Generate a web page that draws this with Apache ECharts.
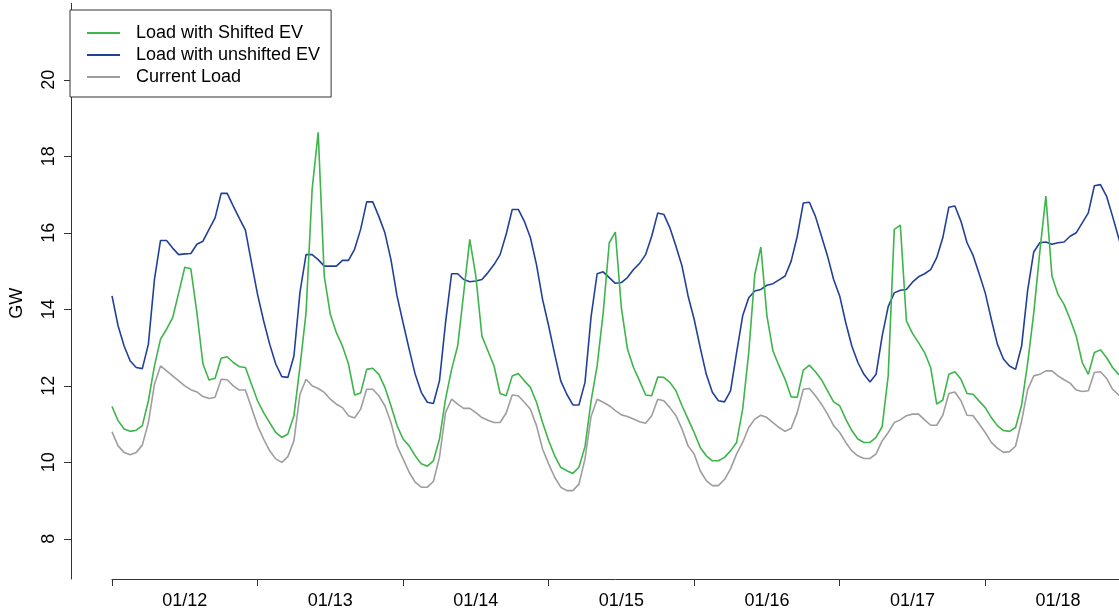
<!DOCTYPE html>
<html><head><meta charset="utf-8">
<script src="https://cdn.jsdelivr.net/npm/echarts@6/dist/echarts.min.js"></script>
<style>html,body{margin:0;padding:0;background:#fff}#c{width:1119px;height:610px}</style>
</head><body><div id="c"></div><script>
// hourly values, 01/12 00:00 onward
const shiftedEV = [
11.46,11.09,10.87,10.81,10.84,10.96,11.61,12.52,13.22,13.48,13.78,14.43,15.1,15.06,13.91,12.57,12.15,12.2,12.72,12.76,12.61,12.5,12.48,12.04,
11.61,11.3,11.04,10.78,10.65,10.74,11.22,12.5,13.91,17.13,18.63,14.87,13.87,13.39,13.04,12.57,11.76,11.81,12.43,12.46,12.3,11.96,11.48,10.96,
10.61,10.43,10.17,9.96,9.9,10.04,10.61,11.65,12.43,13.04,14.43,15.83,14.87,13.3,12.91,12.52,11.8,11.74,12.26,12.32,12.13,11.96,11.57,11.04,
10.57,10.17,9.87,9.78,9.71,9.87,10.41,11.6,12.52,13.91,15.74,16.02,14.04,12.96,12.48,12.13,11.76,11.74,12.23,12.22,12.09,11.87,11.48,11.13,
10.78,10.39,10.17,10.04,10.04,10.13,10.3,10.52,11.39,12.87,14.91,15.63,13.83,12.91,12.52,12.17,11.71,11.7,12.41,12.54,12.37,12.16,11.87,11.58,
11.48,11.13,10.83,10.61,10.52,10.52,10.65,10.93,12.26,16.09,16.2,13.7,13.37,13.13,12.87,12.48,11.52,11.63,12.3,12.37,12.17,11.8,11.78,11.6,
11.43,11.17,10.96,10.83,10.81,10.91,11.5,12.6,13.9,15.5,16.96,14.87,14.39,14.13,13.74,13.3,12.61,12.3,12.87,12.94,12.74,12.48,12.3,12.2];
const unshiftedEV = [
14.35,13.57,13.04,12.65,12.48,12.45,13.09,14.78,15.8,15.8,15.6,15.43,15.45,15.46,15.7,15.78,16.09,16.39,17.03,17.03,16.7,16.38,16.07,15.22,
14.39,13.7,13.09,12.57,12.24,12.22,12.78,14.45,15.43,15.43,15.3,15.13,15.13,15.13,15.28,15.28,15.57,16.09,16.81,16.81,16.43,16.0,15.3,14.35,
13.65,12.96,12.3,11.83,11.57,11.54,12.13,13.65,14.93,14.93,14.78,14.72,14.74,14.78,14.96,15.17,15.43,15.96,16.61,16.61,16.3,15.87,15.17,14.26,
13.57,12.83,12.13,11.78,11.5,11.5,12.09,13.8,14.93,14.98,14.83,14.68,14.7,14.83,15.04,15.2,15.43,15.91,16.52,16.48,16.13,15.65,15.13,14.35,
13.74,13.0,12.3,11.83,11.61,11.58,11.87,12.87,13.83,14.3,14.48,14.52,14.63,14.67,14.77,14.87,15.26,15.91,16.78,16.8,16.43,15.91,15.39,14.78,
14.35,13.65,13.04,12.61,12.3,12.1,12.3,13.3,14.07,14.43,14.5,14.52,14.71,14.85,14.93,15.04,15.35,15.87,16.67,16.7,16.3,15.74,15.41,14.93,
14.43,13.74,13.09,12.7,12.52,12.43,13.04,14.5,15.5,15.74,15.76,15.7,15.74,15.76,15.91,16.0,16.26,16.52,17.23,17.26,16.96,16.43,15.87,15.3];
const currentLoad = [
10.8,10.43,10.26,10.2,10.26,10.45,11.04,12.04,12.52,12.39,12.26,12.13,12.0,11.9,11.84,11.72,11.67,11.7,12.17,12.16,12.0,11.89,11.89,11.43,
10.96,10.61,10.3,10.09,10.0,10.15,10.56,11.78,12.17,12.0,11.93,11.83,11.65,11.52,11.43,11.22,11.16,11.39,11.91,11.91,11.74,11.48,11.04,10.43,
10.09,9.74,9.48,9.35,9.35,9.5,10.13,11.3,11.65,11.52,11.41,11.41,11.3,11.17,11.1,11.04,11.04,11.29,11.76,11.74,11.57,11.39,10.96,10.35,
9.96,9.61,9.35,9.26,9.26,9.43,10.09,11.2,11.65,11.57,11.48,11.35,11.24,11.2,11.13,11.06,11.02,11.22,11.65,11.61,11.43,11.22,10.87,10.43,
10.22,9.78,9.52,9.39,9.39,9.55,9.83,10.22,10.52,10.91,11.13,11.23,11.17,11.04,10.91,10.81,10.89,11.3,11.91,11.93,11.74,11.52,11.26,10.96,
10.78,10.52,10.3,10.17,10.1,10.1,10.22,10.56,10.78,11.04,11.11,11.22,11.26,11.26,11.11,10.97,10.97,11.23,11.8,11.84,11.61,11.23,11.22,11.0,
10.78,10.52,10.37,10.26,10.28,10.42,11.08,11.9,12.26,12.3,12.39,12.39,12.26,12.16,12.07,11.89,11.85,11.87,12.35,12.37,12.2,11.91,11.76,11.6];
const dayLabels = ['01/12','01/13','01/14','01/15','01/16','01/17','01/18'];
const dayStartHours = [0,24,48,72,96,120,144,168];
const dayMidHours = [12,36,60,84,108,132,156];
const yTicks = [8,10,12,14,16,18,20];
const seriesNames = ['Load with Shifted EV','Load with unshifted EV','Current Load'];

const FONT = "'Liberation Sans', Arial, sans-serif";
const FS = 18;
const yMin = 6.95, yMax = 22;
const pairs = arr => arr.map((v, i) => [i, v]);

const chart = echarts.init(document.getElementById('c'), null, {renderer: 'canvas'});
chart.setOption({
  animation: false,
  backgroundColor: '#fff',
  textStyle: {fontFamily: FONT},
  grid: {left: 111, right: 0, top: 3.3, bottom: 29.8, containLabel: false},
  legend: {
    orient: 'vertical', left: 70, top: 10,
    data: seriesNames,
    icon: 'rect',
    backgroundColor: '#fff', borderColor: '#333', borderWidth: 1, borderRadius: 0,
    padding: [13, 11, 10, 17],
    itemWidth: 33, itemHeight: 2, itemGap: 2,
    textStyle: {fontFamily: FONT, fontSize: FS, color: '#000', lineHeight: 20, padding: [0, 0, 0, 11]},
    selectedMode: false
  },
  xAxis: {
    type: 'value', min: 0, max: 166.06,
    axisLine: {show: true, onZero: false, lineStyle: {color: '#333', width: 1}},
    axisTick: {show: true, inside: false, length: 7, customValues: dayStartHours, lineStyle: {color: '#333', width: 1}},
    axisLabel: {show: true, customValues: dayMidHours, margin: 13, fontFamily: FONT, fontSize: FS, color: '#000',
      formatter: v => dayLabels[dayMidHours.indexOf(v)] || ''},
    splitLine: {show: false}
  },
  yAxis: {
    type: 'value', min: yMin, max: yMax, offset: 41,
    name: 'GW', nameLocation: 'middle', nameRotate: 90, nameGap: 45,
    nameTextStyle: {fontFamily: FONT, fontSize: FS, color: '#000', padding: [0, 24, 0, 0]},
    axisLine: {show: true, onZero: false, lineStyle: {color: '#333', width: 1}},
    axisTick: {show: true, inside: false, length: 7, customValues: yTicks, lineStyle: {color: '#333', width: 1}},
    axisLabel: {show: true, customValues: yTicks, rotate: 90, margin: 13, fontFamily: FONT, fontSize: FS, color: '#000'},
    splitLine: {show: false}
  },
  series: [
    {name: seriesNames[0], type: 'line', data: pairs(shiftedEV), symbol: 'none', clip: false,
     lineStyle: {color: '#3DB54A', width: 1.6}, itemStyle: {color: '#3DB54A'}, emphasis: {disabled: true}, z: 4},
    {name: seriesNames[1], type: 'line', data: pairs(unshiftedEV), symbol: 'none', clip: false,
     lineStyle: {color: '#22409A', width: 1.6}, itemStyle: {color: '#22409A'}, emphasis: {disabled: true}, z: 3},
    {name: seriesNames[2], type: 'line', data: pairs(currentLoad), symbol: 'none', clip: false,
     lineStyle: {color: '#9E9E9E', width: 1.6}, itemStyle: {color: '#9E9E9E'}, emphasis: {disabled: true}, z: 2}
  ]
});
</script></body></html>
